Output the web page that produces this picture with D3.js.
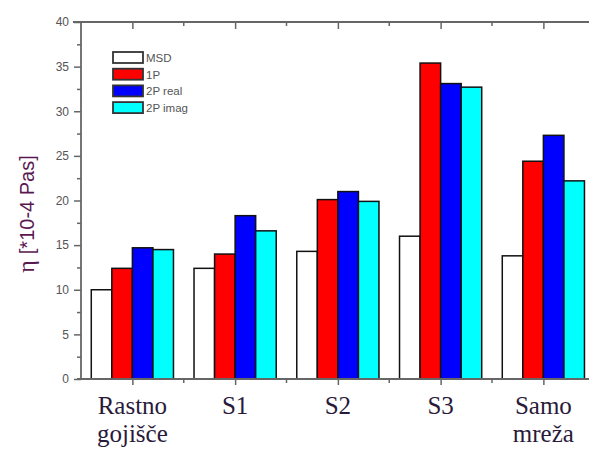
<!DOCTYPE html>
<html>
<head>
<meta charset="utf-8">
<script src="https://cdn.jsdelivr.net/npm/d3@7"></script>
<style>
  body { margin: 0; background: #fff; }
  svg { display: block; }
</style>
</head>
<body>
<div id="chart"></div>
<script>
// data
const categories = [['Rastno', 'gojišče'], ['S1'], ['S2'], ['S3'], ['Samo', 'mreža']]
const series = ['MSD', '1P', '2P real', '2P imag']
const colors = ['#ffffff', '#ff0000', '#0000ff', '#00ffff']
const msd = [10.0, 12.4, 14.3, 16.0, 13.8]
const p1 = [12.4, 14.0, 20.1, 35.4, 24.4]
const p2real = [14.7, 18.3, 21.0, 33.1, 27.3]
const p2imag = [14.5, 16.6, 19.9, 32.7, 22.2]
const yTicks = [0, 5, 10, 15, 20, 25, 30, 35, 40]

function draw(){
    const values = [msd, p1, p2real, p2imag]
    const width = 589, height = 449
    const left = 81, right = 594.75, top = 22, bottom = 379

    const svg = d3.select('#chart')
        .append('svg')
        .attr('width', width)
        .attr('height', height)

    const catIdx = categories.map((d, i) => i)
    const xScale = d3.scalePoint()
        .domain(catIdx)
        .range([left, right])
        .padding(0.5)
    const step = xScale.step()
    const groupW = step * 0.8
    const sub = d3.scaleBand()
        .domain(series)
        .range([-groupW / 2, groupW / 2])

    const yScale = d3.scaleLinear()
        .domain([0, 40])
        .range([bottom, top])

    // bars
    const groups = svg.append('g')
        .selectAll('g')
        .data(catIdx)
        .join('g')
        .attr('transform', i => `translate(${xScale(i)},0)`)

    groups.selectAll('rect')
        .data(i => series.map((s, k) => ({s, k, v: values[k][i]})))
        .join('rect')
        .attr('x', d => sub(d.s))
        .attr('width', sub.bandwidth())
        .attr('y', d => yScale(d.v))
        .attr('height', d => yScale(0) - yScale(d.v))
        .attr('fill', d => colors[d.k])
        .attr('stroke', '#111')
        .attr('stroke-width', 1.5)

    // frame axes
    const axisColor = '#666'
    const minorY = d3.range(2.5, 40, 5)
    const minorX = catIdx.slice(0, -1).map(i => xScale(i) + step / 2)

    // left axis
    svg.append('g')
        .attr('transform', `translate(${left},0)`)
        .call(d3.axisLeft(yScale).tickValues(minorY).tickSize(4).tickFormat(''))
        .call(g => g.select('.domain').remove())
    const yAx = svg.append('g')
        .attr('transform', `translate(${left},0)`)
        .call(d3.axisLeft(yScale).tickValues(yTicks).tickSize(7).tickPadding(5))
    yAx.select('.domain').remove()
    yAx.selectAll('text')
        .style('font-family', 'Liberation Sans, Arial, sans-serif')
        .style('font-size', '12px')
        .attr('fill', '#555')

    // right axis (ticks inward)
    svg.append('g')
        .attr('transform', `translate(${right},0)`)
        .call(d3.axisLeft(yScale).tickValues(yTicks).tickSize(-7).tickFormat(''))
        .call(g => g.select('.domain').remove())

    // bottom axis
    svg.append('g')
        .attr('transform', `translate(0,${bottom})`)
        .call(d3.axisBottom(xScale).tickSize(6).tickFormat(''))
        .call(g => g.select('.domain').remove())
    svg.append('g')
        .selectAll('line')
        .data(minorX)
        .join('line')
        .attr('x1', d => d).attr('x2', d => d)
        .attr('y1', bottom).attr('y2', bottom + 4)

    // top axis (ticks inward)
    svg.append('g')
        .attr('transform', `translate(0,${top})`)
        .call(d3.axisTop(xScale).tickSize(-7).tickFormat(''))
        .call(g => g.select('.domain').remove())
    svg.append('g')
        .selectAll('line')
        .data(minorX)
        .join('line')
        .attr('x1', d => d).attr('x2', d => d)
        .attr('y1', top).attr('y2', top + 4)

    svg.selectAll('.tick line, g > line')
        .attr('stroke', axisColor)
        .attr('stroke-width', 1.5)

    // frame lines
    const frame = [
        [left - 4, bottom, right, bottom],
        [left - 8, top, right, top],
        [left, top, left, bottom],
        [right, top, right, bottom]
    ]
    svg.append('g')
        .selectAll('line')
        .data(frame)
        .join('line')
        .attr('x1', d => d[0]).attr('y1', d => d[1])
        .attr('x2', d => d[2]).attr('y2', d => d[3])
        .attr('stroke', axisColor)
        .attr('stroke-width', 1.8)

    // category labels, one text per line
    const labelLines = []
    catIdx.forEach(i => categories[i].forEach((line, j) => labelLines.push({i, j, line})))
    svg.append('g')
        .selectAll('text')
        .data(labelLines)
        .join('text')
        .attr('x', d => xScale(d.i))
        .attr('y', d => 414 + d.j * 28)
        .attr('text-anchor', 'middle')
        .style('font-family', 'Liberation Serif, Times New Roman, serif')
        .style('font-size', '25px')
        .attr('fill', '#2a1a3a')
        .text(d => d.line)

    // y label
    svg.append('text')
        .attr('transform', `translate(34,214) rotate(-90)`)
        .attr('text-anchor', 'middle')
        .attr('fill', '#5a1850')
        .style('font-family', 'Liberation Sans, Arial, sans-serif')
        .style('font-size', '20px')
        .call(t => t.append('tspan')
            .style('font-family', 'Liberation Serif, Times New Roman, serif')
            .style('font-size', '24px')
            .text('η '))
        .call(t => t.append('tspan').text('[*10-4 Pas]'))

    // legend
    const legend = svg.append('g')
        .attr('transform', 'translate(113,52)')
    const items = legend.selectAll('g')
        .data(series)
        .join('g')
        .attr('transform', (d, i) => `translate(0,${i * 16.7})`)
    items.append('rect')
        .attr('width', 30)
        .attr('height', 11)
        .attr('fill', (d, i) => colors[i])
        .attr('stroke', '#333')
        .attr('stroke-width', 1.8)
    items.append('text')
        .attr('x', 33)
        .attr('y', 10)
        .style('font-family', 'Liberation Sans, Arial, sans-serif')
        .style('font-size', '11.5px')
        .attr('fill', '#555')
        .text(d => d)
}

draw()
</script>
</body>
</html>
